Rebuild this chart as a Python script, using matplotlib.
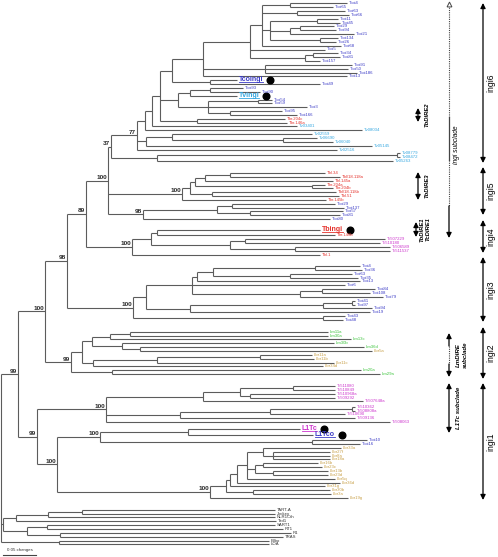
import matplotlib.pyplot as plt
from matplotlib.collections import LineCollection

plt.rcParams['font.family'] = ['Liberation Sans', 'DejaVu Sans']

# Tree in Newick pieces. Branch lengths are in drawing units
# (33 units = 0.05 changes); numbers after ')' are bootstrap values.

# ingi6
TCO_A = ("((Tcoi4:57,Tcoi65:43):28,(Tcoi63:48,Tcoi66:52):35,"
         "((Tcoi11:21,Tcoi45:23):47,((Tcoi29:34,Tcoi94:36):10,Tcoi21:64):20,"
         "(Tcoi134:18,Tcoi26:16):50):8,Tcoi68:79):12")
TCO_B = f"({TCO_A},Tcoi5:75,((Tcoi34:25,Tcoi81:27):8,Tcoi157:15):55):47"
TCO_C = f"({TCO_B},(Tcoi91:87,Tcoi50:83,Tcoi186:92):62,Tcoi13:144):31"
TCO_N = f"({TCO_C},(Tcoingi:27,Tcoi49:110):38):12"
TV_INGI = ("(((Tcoi93:33,Tcoi90:50):20,Tvingi:47):12,"
           "((Tcoi54:14,Tcoi59:14):50,Tcoi3:99,(Tcoi95:52,Tcoi166:67):22):30):18")
INGI6_M = f"({TCO_N},{TV_INGI},(Tbr.204c:88,Tbr.146a:90):37):8"
INGI6_K = f"(({INGI6_M},Tv03401:145):7,Tv08034:217):8"
TV_W = "((Tv02559:140,(Tv06690:34,Tv06040:50):111):26,Tv05145:226):9"
INGI6 = (f"(({INGI6_K},{TV_W},Tv02516:200)77:26,"
         "((Tv08779:3,Tv08472:3):240,Tv05263:236):46)37:3")

# ingi5
INGI5_TB = ("(((((Tbl.34:95,Tbl/18.118a:110):25,Tbl.145a:128):10,"
            "(Tbr.204a:13,Tbr.204b:21):117):5,(Tbl/18.118b:124,Tbl.51:127):22):8,"
            "Tbr.145b:144)100:74")
INGI5_TCO = "(((Tcoi29:103,Tcoi137:112):15,(Tcoi57:93,Tcoi81:90):33):74,Tcoi80:187)98:35"
D_NODE = f"({INGI6},{INGI5_TB},{INGI5_TCO})100:22"

# ingi4
INGI4 = ("(((Tbingi:163,Tbr.146b:178):6,((Tc507229:140,Tc510180:135):15,"
         "(Tc506589:95,Tc511537:95):65):79):19,Tbl.1:188)100:46")
N89 = f"({D_NODE},{INGI4})89:19"

# ingi3
INGI3_TOP = ("((((Tcoi4:45,Tcoi36:47):102,(Tcoi63:62,Tcoi35:68):77):16,Tcoi13:163):5,"
             "Tcoi6:153,((Tcoi84:53,Tcoi108:48):22,Tcoi79:83):108):46")
INGI3_MID = "(((Tcoi41:3,Tcoi97:3):29,Tcoi94:49):133,Tcoi19:180):44"
INGI3 = f"(({INGI3_TOP},{INGI3_MID}):13,(Tcoi43:22,Tcoi48:20):190)100:66"
C_NODE = f"({N89},{INGI3})98:22"

# ingi2
INGI2 = ("(((((Lm11a:198,Lm30a:198):20,Lm13c:241):18,"
         "(Lm30b:212,(Lm36d:224,Lbr5a:232):18):30):10,"
         "(((Lbr11a:52,Lbr11b:54):103,Lbr11c:177):64,Lbr34d:230):11):11,"
         "(Lm20a:249,Lm29a:268):41)99:26")
B_NODE = f"({C_NODE},{INGI2})100:27"

# ingi1
L1TC_SUB = ("((((Tc511080:42,Tc510849:42):53,(Tc510968a:85,Tc509292:85):10):37,"
            "Tc507648a:160):97,(((Tc510362:3,Tc508808a:3):82,Tc510690:75):90,"
            "Tc509136:175):74,Tc508063:284)100:69")
LBR = ("((((((Lbr33a:78,(Lbr27f:57,Lbr8a:57,Lbr18a:57):10):16,"
       "((Lbr16b:55,Lbr23c:59):8,(Lbr13b:55,Lbr23d:55):18):8,Lbr5q:88):10,"
       "Lbr36d:103):7,Lbr31g:95):4,(Lbr30b:77,Lbr3a:78):27):16,Lbr19g:138)100:153")
INGI1 = (f"({L1TC_SUB},(((L1Tc:112,L1Tco:125):88,(Tcoi10:55,Tcoi16:48):212)100:43,"
         f"{LBR})100:20)99:19")
ING = f"({B_NODE},{INGI1})99:17"

# outgroup
OUT1 = ("((((TART-A:193,Jockey:193):34,NLR1Cth:227):32,Tad1:260):13,"
        "((SART1:228,RT1:236):20,(R1:231,TRAS:223):33):24):2")
OUT2 = "(Bilbo:210,LOA:210):58"
TREE = f"({ING},{OUT1},{OUT2})"

REFERENCE = ['Tcoingi', 'Tvingi', 'Tbingi', 'L1Tc', 'L1Tco']
PREFIX_COLORS = [('Tcoi', '#3a3ac6'), ('L1Tco', '#3a3ac6'), ('L1Tc', '#cc33cc'),
                 ('Tv', '#33a6e0'), ('Tb', '#e5332d'), ('Tc5', '#cc33cc'),
                 ('Lm', '#3cc43c'), ('Lbr', '#c8a048')]

CLADES = [('ingi6', 3, 163), ('ingi5', 167, 215), ('ingi4', 220, 253),
          ('ingi3', 257, 322), ('ingi2', 327, 379), ('ingi1', 383, 500)]
DIRES = [('TbDIRE2', 108, 122), ('TbDIRE3', 172, 200)]

# extra vertical room after some leaves (layout only)
EXTRA = {'Tv05263': 8, 'Tcoi80': 7, 'Tbingi': 1.5, 'Tbl.1': 7.5, 'Tcoi48': 8,
         'Lm29a': 8, 'Tc507648a': 1.5, 'Tc508063': 3, 'L1Tc': 2, 'L1Tco': 1.5,
         'Lbr19g': 8}
STEP = 3.85
Y0 = 3.3


def parse(s):
    pos = 0

    def node():
        nonlocal pos
        kids = []
        if s[pos] == '(':
            pos += 1
            while True:
                kids.append(node())
                ch = s[pos]
                pos += 1
                if ch == ')':
                    break
        start = pos
        while pos < len(s) and s[pos] not in ':,()':
            pos += 1
        name = s[start:pos]
        length = 0.0
        if pos < len(s) and s[pos] == ':':
            pos += 1
            start = pos
            while pos < len(s) and s[pos] not in ',()':
                pos += 1
            length = float(s[start:pos])
        return {'name': name, 'len': length, 'kids': kids}

    return node()


cursor = [Y0]


def place(n, x0):
    n['x'] = x0 + n['len']
    if n['kids']:
        for k in n['kids']:
            place(k, n['x'])
        n['y'] = (n['kids'][0]['y'] + n['kids'][-1]['y']) / 2
    else:
        n['y'] = cursor[0]
        cursor[0] += STEP + EXTRA.get(n['name'], 0)


root = parse(TREE)
place(root, 1)

fig = plt.figure(figsize=(4.98, 5.57), dpi=100)
ax = fig.add_axes([0, 0, 1, 1])
ax.set_xlim(0, 498)
ax.set_ylim(557, 0)
ax.axis('off')

segs = []
leaves = []
inner = []


def walk(n):
    if n['kids']:
        ys = [k['y'] for k in n['kids']]
        segs.append([(n['x'], min(ys)), (n['x'], max(ys))])
        for k in n['kids']:
            segs.append([(n['x'], k['y']), (k['x'], k['y'])])
            walk(k)
        if n['name']:
            inner.append(n)
    else:
        leaves.append(n)


walk(root)
ax.add_collection(LineCollection(segs, colors='#5c5c5c', linewidths=0.8))


def leaf_color(name):
    for p, c in PREFIX_COLORS:
        if name.startswith(p):
            return c
    return '#333333'


big = []
for lf in leaves:
    col = leaf_color(lf['name'])
    if lf['name'] in REFERENCE:
        t = ax.text(lf['x'] + 1.5, lf['y'] - 0.5, lf['name'], fontsize=5.0,
                    fontweight='bold', color=col, va='center', ha='left')
        big.append((t, lf['y'], col))
    else:
        ax.text(lf['x'] + 2, lf['y'], lf['name'], fontsize=3.1, color=col,
                va='center', ha='left')

for n in inner:
    ax.text(n['x'] - 1.2, n['y'] - 0.6, n['name'], fontsize=4.6, fontweight='bold',
            color='#2a2a2a', ha='right', va='bottom')

# clade arrows on the right
arrow_kw = dict(arrowstyle='<|-|>,head_length=0.5,head_width=0.25', color='black',
                lw=0.9, shrinkA=0, shrinkB=0, mutation_scale=6)
for name, y0, y1 in CLADES:
    ax.annotate('', xy=(483, y0), xytext=(483, y1), arrowprops=arrow_kw)
    ax.text(491, (y0 + y1) / 2, name, rotation=90, fontsize=6.2,
            ha='center', va='center')

for name, y0, y1 in DIRES:
    ax.annotate('', xy=(418, y0), xytext=(418, y1), arrowprops=arrow_kw)
    ax.text(427, (y0 + y1) / 2, name, rotation=90, fontsize=4.2, fontweight='bold',
            style='italic', ha='center', va='center')
ax.annotate('', xy=(416, 222), xytext=(416, 237), arrowprops=arrow_kw)
ax.text(422, 229.5, 'TbDIRE1', rotation=90, fontsize=4.2, fontweight='bold',
        style='italic', ha='center', va='center')
ax.text(428, 229.5, 'TcDIRE1', rotation=90, fontsize=4.2, fontweight='bold',
        style='italic', ha='center', va='center')

# ingi subclade line
ax.plot([449, 449], [5, 117], color='#444444', lw=0.8, ls=(0, (1, 1)))
ax.plot([449, 449], [117, 160], color='#444444', lw=0.9)
ax.plot([449, 449], [160, 206], color='#444444', lw=0.8, ls=(0, (1, 1)))
ax.annotate('', xy=(449, 238), xytext=(449, 206),
            arrowprops=dict(arrowstyle='-|>,head_length=0.5,head_width=0.25',
                            color='black', lw=0.9, shrinkA=0, shrinkB=0,
                            mutation_scale=6))
ax.plot(449, 4, marker='^', ms=3.5, mfc='white', mec='#444444', mew=0.7)
ax.text(457, 145, 'ingi subclade', rotation=90, fontsize=4.8, style='italic',
        ha='center', va='center')

# LmDIRE subclade
ax.annotate('', xy=(449, 333), xytext=(449, 346),
            arrowprops=dict(arrowstyle='-|>,head_length=0.5,head_width=0.25',
                            color='black', lw=0.9, shrinkA=0, shrinkB=0,
                            mutation_scale=6))
ax.plot([449, 449], [346, 364], color='#444444', lw=0.8, ls=(0, (1, 1)))
ax.annotate('', xy=(449, 377), xytext=(449, 364),
            arrowprops=dict(arrowstyle='-|>,head_length=0.5,head_width=0.25',
                            color='black', lw=0.9, shrinkA=0, shrinkB=0,
                            mutation_scale=6))
ax.text(458, 355, 'LmDIRE', rotation=90, fontsize=4.4, style='italic',
        fontweight='bold', ha='center', va='center')
ax.text(465, 355, 'subclade', rotation=90, fontsize=4.4, style='italic',
        fontweight='bold', ha='center', va='center')

# L1Tc subclade
ax.annotate('', xy=(449, 383), xytext=(449, 433), arrowprops=arrow_kw)
ax.text(458, 408, 'L1Tc subclade', rotation=90, fontsize=4.4, style='italic',
        fontweight='bold', ha='center', va='center')

# scale bar
ax.plot([3, 36], [555, 555], color='#444444', lw=0.8)
ax.text(19.5, 552.5, '0.05 changes', fontsize=3.2, ha='center', va='bottom',
        color='#333333')

# underline the reference elements and mark them with a dot
fig.canvas.draw()
r = fig.canvas.get_renderer()
inv = ax.transData.inverted()
for t, y, col in big:
    bb = t.get_window_extent(r)
    (x0, ya), (x1, yb) = inv.transform([[bb.x0, bb.y0], [bb.x1, bb.y1]])
    ax.plot([x0, x1], [max(ya, yb) - 0.8] * 2, color=col, lw=0.6)
    ax.plot(x1 + 7, y, 'o', color='black', ms=4.8)

fig.savefig('out.png', dpi=100)
